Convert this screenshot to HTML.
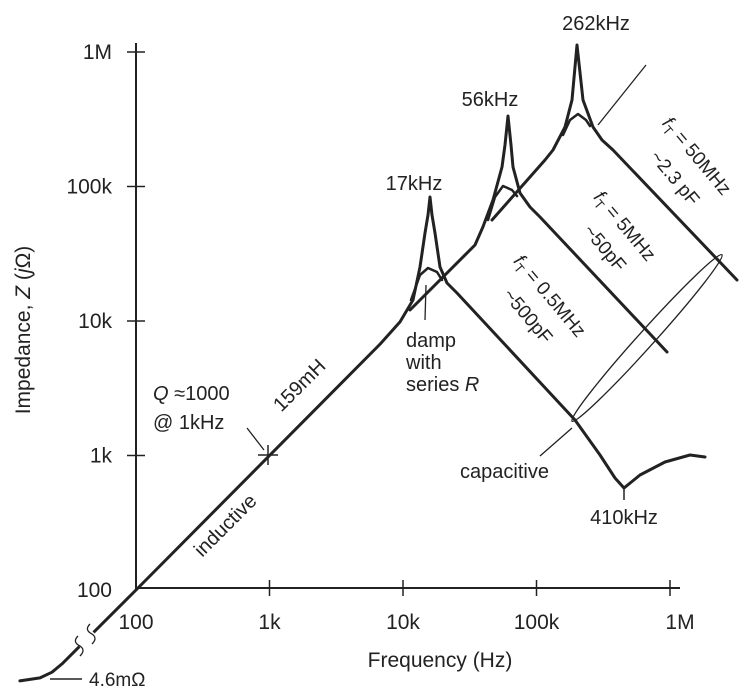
<!DOCTYPE html>
<html><head><meta charset="utf-8"><style>
html,body{margin:0;padding:0;background:#fff;}
svg{display:block;font-family:"Liberation Sans",sans-serif;}
</style></head><body>
<svg id="chart" width="756" height="695" viewBox="0 0 756 695" xmlns="http://www.w3.org/2000/svg">
<g id="axes"></g>
<g id="curves"></g>
<g id="annotations" fill="#222" font-size="20">
  <text x="30" y="330" transform="rotate(-90 30 330)" text-anchor="middle" font-size="21">Impedance, <tspan font-style="italic">Z</tspan>  (<tspan font-style="italic">j</tspan>Ω)</text>
  <text x="440" y="667" text-anchor="middle" font-size="21">Frequency  (Hz)</text>
  <text x="153" y="400"><tspan font-style="italic">Q</tspan> ≈1000</text>
  <text x="153" y="429">@ 1kHz</text>
  <line x1="247" y1="428" x2="264" y2="450" stroke="#222" stroke-width="1.3"/>
  <text x="230" y="530" transform="rotate(-45 230 530)" text-anchor="middle">inductive</text>
  <text x="304" y="390" transform="rotate(-45 304 390)" text-anchor="middle">159mH</text>
  <text x="414" y="190" text-anchor="middle">17kHz</text>
  <text x="490" y="106" text-anchor="middle">56kHz</text>
  <text x="596" y="30" text-anchor="middle">262kHz</text>
  <line x1="598" y1="125" x2="646" y2="65" stroke="#222" stroke-width="1.3"/>
  <line x1="426" y1="285" x2="425" y2="320" stroke="#222" stroke-width="1.3"/>
  <text x="406" y="347">damp</text>
  <text x="406" y="369">with</text>
  <text x="406" y="391">series <tspan font-style="italic">R</tspan></text>
  <g font-size="19">
   <text x="692" y="160" transform="rotate(50 692 160)" text-anchor="middle"><tspan font-style="italic">f</tspan><tspan font-size="13" dy="4">T</tspan><tspan dy="-4"> = 50MHz</tspan></text>
   <text x="670" y="182" transform="rotate(50 670 182)" text-anchor="middle">~2.3 pF</text>
   <text x="620" y="230" transform="rotate(50 620 230)" text-anchor="middle"><tspan font-style="italic">f</tspan><tspan font-size="13" dy="4">T</tspan><tspan dy="-4"> = 5MHz</tspan></text>
   <text x="600" y="252" transform="rotate(50 600 252)" text-anchor="middle">~50pF</text>
   <text x="545" y="300" transform="rotate(50 545 300)" text-anchor="middle"><tspan font-style="italic">f</tspan><tspan font-size="13" dy="4">T</tspan><tspan dy="-4"> = 0.5MHz</tspan></text>
   <text x="523" y="320" transform="rotate(50 523 320)" text-anchor="middle">~500pF</text>
  </g>
  <ellipse cx="647" cy="338" rx="112" ry="8" transform="rotate(-48 647 338)" fill="none" stroke="#222" stroke-width="1.3"/>
  <line x1="572" y1="428" x2="540" y2="456" stroke="#222" stroke-width="1.3"/>
  <text x="460" y="478">capacitive</text>
  <line x1="624" y1="486" x2="624" y2="500" stroke="#222" stroke-width="1.5"/>
  <text x="624" y="524" text-anchor="middle">410kHz</text>
  <line x1="50" y1="679" x2="82" y2="679" stroke="#222" stroke-width="1.5"/>
  <text x="89" y="686" font-size="19">4.6mΩ</text>
  <line x1="258" y1="455" x2="278" y2="455" stroke="#222" stroke-width="1.5"/>
  <line x1="268" y1="445" x2="268" y2="465" stroke="#222" stroke-width="1.5"/>
</g>
<g id="breakgrp">
  <rect x="76" y="632" width="20" height="14" fill="#fff" transform="rotate(-45 86 639)"/>
  <path d="M78,636 q-6,6 2,10 q6,4 0,10 M90,624 q-6,6 2,10 q6,4 0,10" fill="none" stroke="#222" stroke-width="1.3"/>
</g>
<script>
const xTickValues=[100,1000,10000,100000,1000000];
const xTickLabels=["100","1k","10k","100k","1M"];
const yTickValues=[100,1000,10000,100000,1000000];
const yTickLabels=["100","1k","10k","100k","1M"];
// curve A: 500pF (17kHz resonance, 410kHz dip)
const freqA=[13.5,19.1,23.5,27.9,100,6745,9500,11880,13410,14620,15390,15930,16490,17370,18930,21370,25360,194200,299000,387000,452000,596000,918000,1412000,1829000];
const zA=[21.1,22.2,24.5,28.2,100,6745,9840,14320,25200,45100,61400,83560,61400,45100,25200,19180,16150,1836,1009,680,573,716,895,1009,975];
// curve B: 50pF (56kHz)
const freqB=[11280,34600,39700,47200,55200,58100,61200,64400,66700,75200,89400,106200,950000];
const zB=[12080,36730,50000,79400,139600,203700,334300,203700,139600,89500,70400,59300,5885];
// curve C: 2.3pF (262kHz)
const freqC=[46400,115800,133000,163400,184500,201200,222900,264900,309700,374100,3176000];
const zC=[56400,157400,186700,276700,440000,1127000,440000,276700,221800,186700,20180];
// damped humps
const freqDA=[11480,13410,15390,17980,19590];
const zDA=[14320,21980,24780,23130,20180];
const freqDB=[43350,48870,56100,65500,71400];
const zDB=[56400,83560,100900,94200,84900];
const freqDC=[158000,178200,204600,234800,251600];
const zDC=[241500,312000,345900,312000,281800];

const NS="http://www.w3.org/2000/svg";
function xs(f){return 136+133.5*Math.log10(f/100);}
function ys(z){return 590-134.5*Math.log10(z/100);}
const axes=document.getElementById('axes');
function mk(tag,attrs,parent){const e=document.createElementNS(NS,tag);for(const k in attrs)e.setAttribute(k,attrs[k]);parent.appendChild(e);return e;}
let l=mk('line',{x1:136,y1:590,x2:136,y2:43,stroke:'#222','stroke-width':2},axes);


l=mk('line',{x1:136,y1:588,x2:680,y2:588,stroke:'#222','stroke-width':2},axes);


xTickValues.forEach((v,i)=>{
  const x=xs(v);
  if(i>0){const t=mk('line',{x1:x,y1:580,x2:x,y2:596,stroke:'#222','stroke-width':1.5},axes);
  
  }
  const tx=mk('text',{x:x+(i==4?10:0),y:629,'text-anchor':'middle','font-size':21,fill:'#222'},axes);
  tx.textContent=xTickLabels[i];
  
  
});
yTickValues.forEach((v,i)=>{
  const y=ys(v);
  if(i>0){const t=mk('line',{x1:127,y1:y,x2:145,y2:y,stroke:'#222','stroke-width':1.5},axes);
  
  }
  const tx=mk('text',{x:112,y:y+7,'text-anchor':'end','font-size':21,fill:'#222'},axes);
  tx.textContent=yTickLabels[i];
  
  
});
const curves=document.getElementById('curves');
function draw(fs,zs,name,w){
  const pts=fs.map((f,i)=>xs(f).toFixed(1)+','+ys(zs[i]).toFixed(1)).join(' ');
  const p=mk('polyline',{points:pts,fill:'none',stroke:'#222','stroke-width':w,'stroke-linejoin':'round','stroke-linecap':'round'},curves);
  
  
}
draw(freqA,zA,'curve-500pf',3);
draw(freqB,zB,'curve-50pf',3);
draw(freqC,zC,'curve-2pf',3);
draw(freqDA,zDA,'damped-500pf',2.5);
draw(freqDB,zDB,'damped-50pf',2.5);
draw(freqDC,zDC,'damped-2pf',2.5);
</script>
</svg>
</body></html>
